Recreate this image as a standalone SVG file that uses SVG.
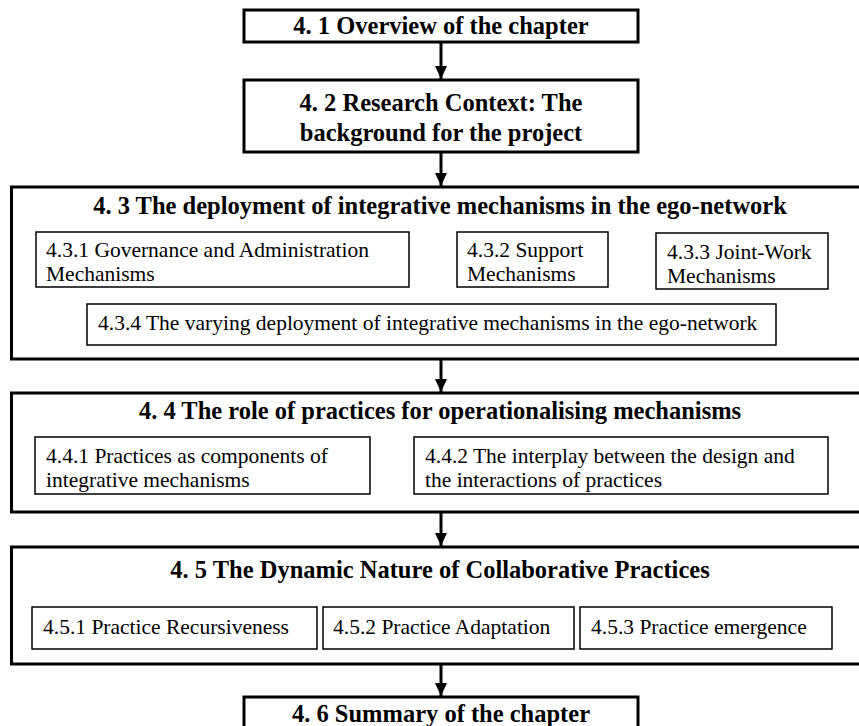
<svg xmlns="http://www.w3.org/2000/svg" width="859" height="726" viewBox="0 0 859 726">
  <defs>
    <marker id="head" markerWidth="13" markerHeight="12" refX="13" refY="6" orient="auto" markerUnits="userSpaceOnUse" viewBox="0 0 13 12">
      <path d="M0,0 L13,6 L0,12 Z" fill="#000"/>
    </marker>
    <style>
      .main { fill: #fff; stroke: #000; stroke-width: 3; }
      .sub { fill: #fff; stroke: #000; stroke-width: 1.5; }
      .title { font-family: "Liberation Serif", "Times New Roman", serif; font-weight: bold; font-size: 24.5px; fill: #000; text-anchor: middle; }
      .txt { font-family: "Liberation Serif", "Times New Roman", serif; font-size: 21.5px; fill: #000; }
      .link { stroke: #000; stroke-width: 3; fill: none; }
    </style>
  </defs>
  <rect width="859" height="726" fill="#fff"/>

  <g id="s41">
    <rect class="main" x="244" y="10" width="394" height="32"/>
    <text class="title" x="441" y="34">4. 1 Overview of the chapter</text>
  </g>

  <g id="s42">
    <rect class="main" x="244" y="80" width="394" height="72"/>
    <text class="title" x="441" y="111">4. 2 Research Context: The</text>
    <text class="title" x="441" y="141">background for the project</text>
  </g>

  <g id="s43">
    <rect class="main" x="11.5" y="187" width="860" height="172"/>
    <text class="title" x="440" y="214">4. 3 The deployment of integrative mechanisms in the ego-network</text>
    <g id="s431">
      <rect class="sub" x="36" y="232" width="373" height="55"/>
      <text class="txt" x="46" y="257">4.3.1 Governance and Administration</text>
      <text class="txt" x="46" y="281">Mechanisms</text>
    </g>
    <g id="s432">
      <rect class="sub" x="457" y="232" width="151" height="55"/>
      <text class="txt" x="467" y="257">4.3.2 Support</text>
      <text class="txt" x="467" y="281">Mechanisms</text>
    </g>
    <g id="s433">
      <rect class="sub" x="656" y="233" width="172" height="56"/>
      <text class="txt" x="667" y="259">4.3.3 Joint-Work</text>
      <text class="txt" x="667" y="283">Mechanisms</text>
    </g>
    <g id="s434">
      <rect class="sub" x="87" y="304" width="689" height="41"/>
      <text class="txt" x="98" y="330">4.3.4 The varying deployment of integrative mechanisms in the ego-network</text>
    </g>
  </g>

  <g id="s44">
    <rect class="main" x="11.5" y="393" width="860" height="119"/>
    <text class="title" x="440" y="419">4. 4 The role of practices for operationalising mechanisms</text>
    <g id="s441">
      <rect class="sub" x="35" y="437" width="335" height="57"/>
      <text class="txt" x="46" y="463">4.4.1 Practices as components of</text>
      <text class="txt" x="46" y="487">integrative mechanisms</text>
    </g>
    <g id="s442">
      <rect class="sub" x="414" y="437" width="414" height="57"/>
      <text class="txt" x="425" y="463">4.4.2 The interplay between the design and</text>
      <text class="txt" x="425" y="487">the interactions of practices</text>
    </g>
  </g>

  <g id="s45">
    <rect class="main" x="11.5" y="547" width="860" height="117"/>
    <text class="title" x="440" y="578">4. 5 The Dynamic Nature of Collaborative Practices</text>
    <g id="s451">
      <rect class="sub" x="32" y="607" width="285" height="42"/>
      <text class="txt" x="43" y="634">4.5.1 Practice Recursiveness</text>
    </g>
    <g id="s452">
      <rect class="sub" x="323" y="607" width="251" height="42"/>
      <text class="txt" x="333" y="634">4.5.2 Practice Adaptation</text>
    </g>
    <g id="s453">
      <rect class="sub" x="580" y="607" width="252" height="42"/>
      <text class="txt" x="591" y="634">4.5.3 Practice emergence</text>
    </g>
  </g>

  <g id="s46">
    <rect class="main" x="244" y="697" width="394" height="40"/>
    <text class="title" x="441" y="722">4. 6 Summary of the chapter</text>
  </g>

  <!-- connectors between chapter sections -->
  <g id="connectors">
    <line class="link" x1="441" y1="42" x2="441" y2="79" marker-end="url(#head)"/>
    <line class="link" x1="441" y1="152" x2="441" y2="186" marker-end="url(#head)"/>
    <line class="link" x1="441" y1="359" x2="441" y2="392" marker-end="url(#head)"/>
    <line class="link" x1="441" y1="512" x2="441" y2="546" marker-end="url(#head)"/>
    <line class="link" x1="441" y1="664" x2="441" y2="696" marker-end="url(#head)"/>
  </g>
</svg>
